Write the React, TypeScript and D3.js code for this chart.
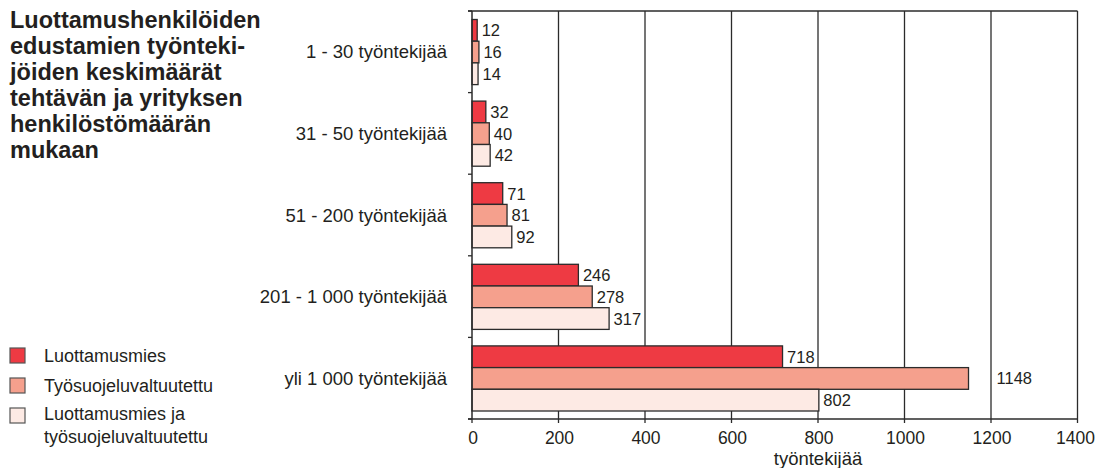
import React from "react";
import * as d3 from "d3";

const categories = [
  "1 - 30 työntekijää",
  "31 - 50 työntekijää",
  "51 - 200 työntekijää",
  "201 - 1 000 työntekijää",
  "yli 1 000 työntekijää",
];
const seriesNames = ["Luottamusmies", "Työsuojeluvaltuutettu", "Luottamusmies ja työsuojeluvaltuutettu"];
const luottamusmies = [12, 32, 71, 246, 718];
const tyosuojelu = [16, 40, 81, 278, 1148];
const molemmat = [14, 42, 92, 317, 802];
const xTicks = [0, 200, 400, 600, 800, 1000, 1200, 1400];
const titleLines = [
  "Luottamushenkilöiden",
  "edustamien työnteki-",
  "jöiden keskimäärät",
  "tehtävän ja yrityksen",
  "henkilöstömäärän",
  "mukaan",
];
const xAxisTitle = "työntekijää";

const colors = ["#EE3A43", "#F5A08D", "#FDEAE4"];
const stroke = "#2b2b2b";
const FONT = "'Liberation Sans', Arial, Helvetica, sans-serif";

export default function App() {
  const W = 1097, H = 468;
  const left = 472, right = 1077.5, top = 11, bottom = 419;
  const x = d3.scaleLinear().domain([0, 1400]).range([left, right]);
  const y = d3.scaleBand().domain(categories).range([top, bottom]).padding(0);
  const bw = y.bandwidth();
  const inner = d3.scaleBand<number>().domain([0, 1, 2]).range([8.5, bw - 8]).padding(0);
  const series = [luottamusmies, tyosuojelu, molemmat];
  const gridXs = xTicks.slice(1).map((t) => x(t));
  const valueFont = 16.5;
  const tickFont = 17.5;

  const labelX = (v: number, text: string) => {
    let lx = x(v) + 4.5;
    const w = text.length * valueFont * 0.556;
    for (const g of gridXs) {
      if (lx < g && lx + w > g) lx = g + 5.5;
    }
    return lx;
  };
  const tickX = (t: number) => {
    const w = String(t).length * tickFont * 0.556;
    return Math.min(x(t) + 1, W - 2 - w / 2);
  };

  return (
    <svg width={W} height={H} style={{ position: "absolute", left: 0, top: 0 }} fontFamily={FONT}>
      <rect width={W} height={H} fill="#fff" />
      {/* title */}
      {titleLines.map((t, i) => (
        <text key={i} x={10} y={28 + i * 26} fontSize={23.5} fontWeight="bold" fill="#231f20">
          {t}
        </text>
      ))}
      {/* grid lines */}
      {gridXs.map((gx, i) => (
        <line key={i} x1={gx} x2={gx} y1={top} y2={bottom} stroke={stroke} strokeWidth={1.3} />
      ))}
      {/* top border */}
      <line x1={left - 4} x2={right} y1={top} y2={top} stroke={stroke} strokeWidth={1.3} />
      {/* bars */}
      {categories.map((c, ci) => (
        <g key={c}>
          {series.map((s, si) => {
            const y0 = (y(c) as number) + (inner(si) as number);
            const h = inner.bandwidth();
            const txt = String(s[ci]);
            return (
              <g key={si}>
                <rect x={x(0)} y={y0} width={x(s[ci]) - x(0)} height={h} fill={colors[si]} stroke={stroke} strokeWidth={1.3} />
                <text x={labelX(s[ci], txt)} y={y0 + h / 2 + 6} fontSize={valueFont} fill="#231f20">
                  {txt}
                </text>
              </g>
            );
          })}
          <text x={447} y={(y(c) as number) + bw / 2 + 6.5} fontSize={18.5} textAnchor="end" fill="#231f20">
            {c}
          </text>
        </g>
      ))}
      {/* left axis */}
      <line x1={left} x2={left} y1={top} y2={bottom} stroke={stroke} strokeWidth={1.5} />
      {[...categories.map((c) => y(c) as number), bottom].map((ty, i) => (
        <line key={i} x1={left - 4} x2={left} y1={ty} y2={ty} stroke={stroke} strokeWidth={1.3} />
      ))}
      {/* bottom axis */}
      <line x1={left - 4} x2={right} y1={bottom} y2={bottom} stroke={stroke} strokeWidth={1.5} />
      {xTicks.map((t) => (
        <g key={t}>
          <line x1={x(t)} x2={x(t)} y1={bottom} y2={bottom + 4} stroke={stroke} strokeWidth={1.3} />
          <text x={tickX(t)} y={444} fontSize={tickFont} textAnchor="middle" fill="#231f20">
            {t}
          </text>
        </g>
      ))}
      <text x={x(800)} y={465} fontSize={18.5} textAnchor="middle" fill="#231f20">
        {xAxisTitle}
      </text>
      {/* legend */}
      {seriesNames.map((n, i) => (
        <g key={n}>
          <rect x={10} y={348 + i * 30} width={15} height={15} fill={colors[i]} stroke="#555" strokeWidth={1.2} />
          {i < 2 ? (
            <text x={44} y={362 + i * 30} fontSize={18} fill="#231f20">
              {n}
            </text>
          ) : (
            <text x={44} y={420} fontSize={18} fill="#231f20">
              <tspan x={44}>Luottamusmies ja</tspan>
              <tspan x={44} dy={23}>työsuojeluvaltuutettu</tspan>
            </text>
          )}
        </g>
      ))}
    </svg>
  );
}
